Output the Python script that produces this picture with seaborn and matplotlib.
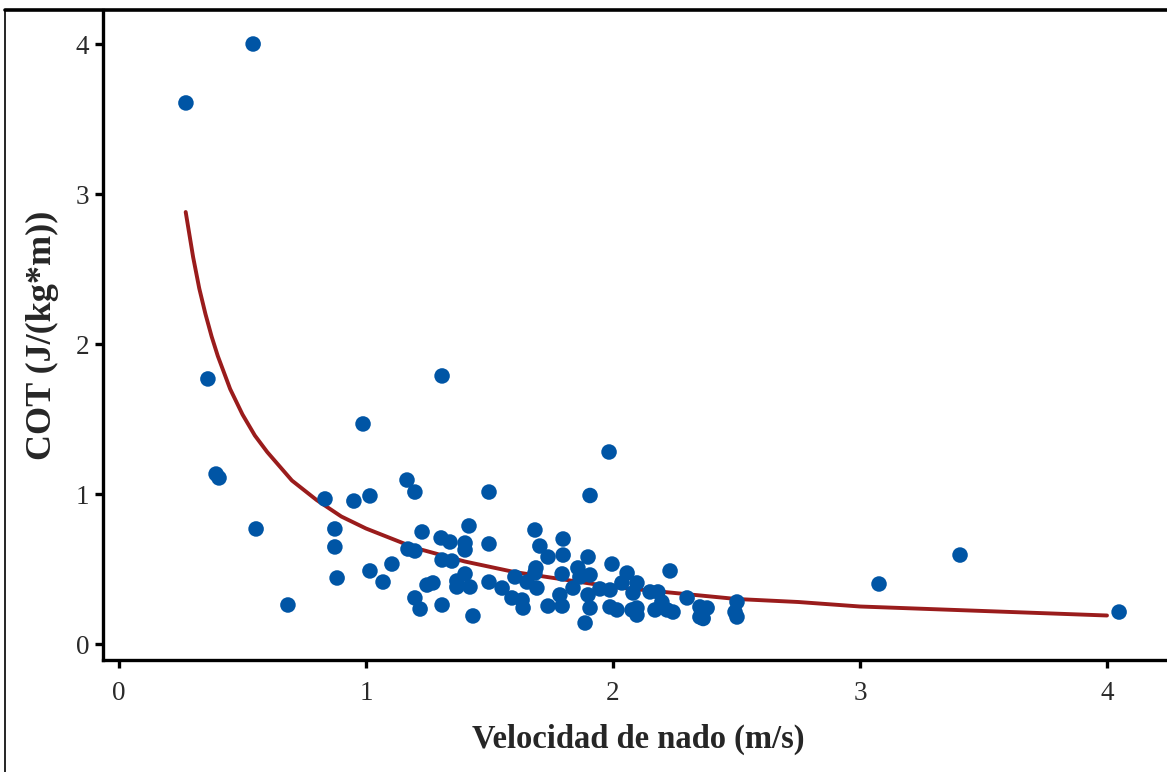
import matplotlib
matplotlib.use("Agg")
import matplotlib.pyplot as plt
import seaborn as sns
import pandas as pd
from matplotlib.lines import Line2D

# Swimming speed (m/s)
velocidad = [
    0.271, 0.543, 0.360, 0.393, 0.405, 0.555, 0.684,
    0.834, 0.874, 0.874, 0.883, 0.951, 0.988, 1.016, 1.016, 1.069, 1.105,
    1.166, 1.198, 1.170, 1.198, 1.198, 1.219, 1.227, 1.247, 1.271, 1.308,
    1.304, 1.340, 1.401, 1.417, 1.401, 1.308, 1.348, 1.308, 1.368, 1.368,
    1.401, 1.421, 1.433, 1.498, 1.498, 1.498, 1.551, 1.603, 1.591, 1.632,
    1.636, 1.684, 1.704, 1.737, 1.798, 1.798, 1.688, 1.684, 1.652, 1.692,
    1.794, 1.785, 1.838, 1.858, 1.866, 1.907, 1.899, 1.899, 1.907, 1.737,
    1.794, 1.907, 1.887, 1.947, 1.988, 1.996, 1.988, 2.016, 1.984, 2.057,
    2.036, 2.097, 2.081, 2.150, 2.182, 2.198, 2.231, 2.300, 2.352, 2.381,
    2.502, 2.077, 2.097, 2.097, 2.170, 2.219, 2.243, 2.352, 2.365, 2.494,
    2.502, 3.077, 3.405, 4.049,
]
# Cost of transport J/(kg*m)
cot = [
    3.607, 4.000, 1.767, 1.133, 1.107, 0.767, 0.260,
    0.967, 0.767, 0.647, 0.440, 0.953, 1.467, 0.987, 0.487, 0.413, 0.533,
    1.093, 1.013, 0.633, 0.620, 0.307, 0.233, 0.747, 0.393, 0.407, 1.787,
    0.707, 0.680, 0.673, 0.787, 0.627, 0.560, 0.553, 0.260, 0.420, 0.380,
    0.467, 0.380, 0.187, 1.013, 0.667, 0.413, 0.373, 0.447, 0.307, 0.293,
    0.240, 0.760, 0.653, 0.580, 0.700, 0.593, 0.507, 0.473, 0.413, 0.373,
    0.467, 0.327, 0.373, 0.507, 0.447, 0.460, 0.580, 0.327, 0.990, 0.253,
    0.253, 0.240, 0.140, 0.367, 0.360, 0.533, 0.247, 0.227, 1.280, 0.473,
    0.407, 0.407, 0.340, 0.347, 0.347, 0.280, 0.487, 0.307, 0.247, 0.240,
    0.280, 0.227, 0.240, 0.193, 0.227, 0.227, 0.213, 0.180, 0.170, 0.213,
    0.180, 0.400, 0.593, 0.213,
]

# Fitted trend curve
fit_x = [0.27, 0.30, 0.325, 0.35, 0.375, 0.40, 0.45, 0.50, 0.55, 0.60, 0.70,
         0.80, 0.90, 1.00, 1.20, 1.40, 1.60, 1.80, 2.00, 2.25, 2.50, 2.75,
         3.00, 3.50, 4.00]
fit_y = [2.88, 2.58, 2.37, 2.20, 2.05, 1.92, 1.70, 1.53, 1.39, 1.28, 1.09,
         0.96, 0.85, 0.77, 0.64, 0.55, 0.48, 0.43, 0.38, 0.34, 0.30, 0.28,
         0.25, 0.22, 0.19]

x_ticks = [0, 1, 2, 3, 4]
y_ticks = [0, 1, 2, 3, 4]

df = pd.DataFrame({"v": velocidad, "cot": cot})
df_fit = pd.DataFrame({"x": fit_x, "y": fit_y})

sns.set_style("white")
plt.rcParams["font.family"] = ["Liberation Serif", "DejaVu Serif"]

W, H = 1167, 772
fig = plt.figure(figsize=(W / 100, H / 100), dpi=100)
ax = fig.add_axes([103 / W, 1 - 660 / H, (1173 - 103) / W, (660 - 10) / H])

sns.lineplot(data=df_fit, x="x", y="y", ax=ax, color="#9A1C1C", linewidth=2.8,
             zorder=2)
sns.scatterplot(data=df, x="v", y="cot", ax=ax, color="#0055A5", s=125,
                edgecolor="none", linewidth=0, zorder=3)

ax.set_xlim((103 - 119) / 247, (1173 - 119) / 247)
ax.set_ylim((644 - 660) / 150, (644 - 10) / 150)
ax.set_xticks(x_ticks)
ax.set_yticks(y_ticks)
ax.set_xticklabels([str(t) for t in x_ticks])
ax.set_yticklabels([str(t) for t in y_ticks])

for s in ["top", "right"]:
    ax.spines[s].set_visible(False)
for s in ["left", "bottom"]:
    ax.spines[s].set_visible(True)
    ax.spines[s].set_color("black")
    ax.spines[s].set_linewidth(2.4)

ax.tick_params(axis="both", which="major", direction="out", length=6,
               width=2.4, color="black", labelsize=19.5, labelcolor="#2a2a2a",
               left=True, bottom=True)
ax.tick_params(axis="x", pad=9)
ax.tick_params(axis="y", pad=4)

ax.set_xlabel("Velocidad de nado (m/s)", fontsize=23.5, fontweight="bold",
              labelpad=13)
ax.set_ylabel("COT (J/(kg*m))", fontsize=26, fontweight="bold", labelpad=12)

# outer frame lines of the figure
fig.add_artist(Line2D([5 / W, 1], [1 - 9.5 / H, 1 - 9.5 / H],
                      transform=fig.transFigure, color="black", linewidth=2.6))
fig.add_artist(Line2D([5 / W, 5 / W], [0, 1 - 9.5 / H],
                      transform=fig.transFigure, color="black", linewidth=1.2))

fig.savefig("out.png", dpi=100)
